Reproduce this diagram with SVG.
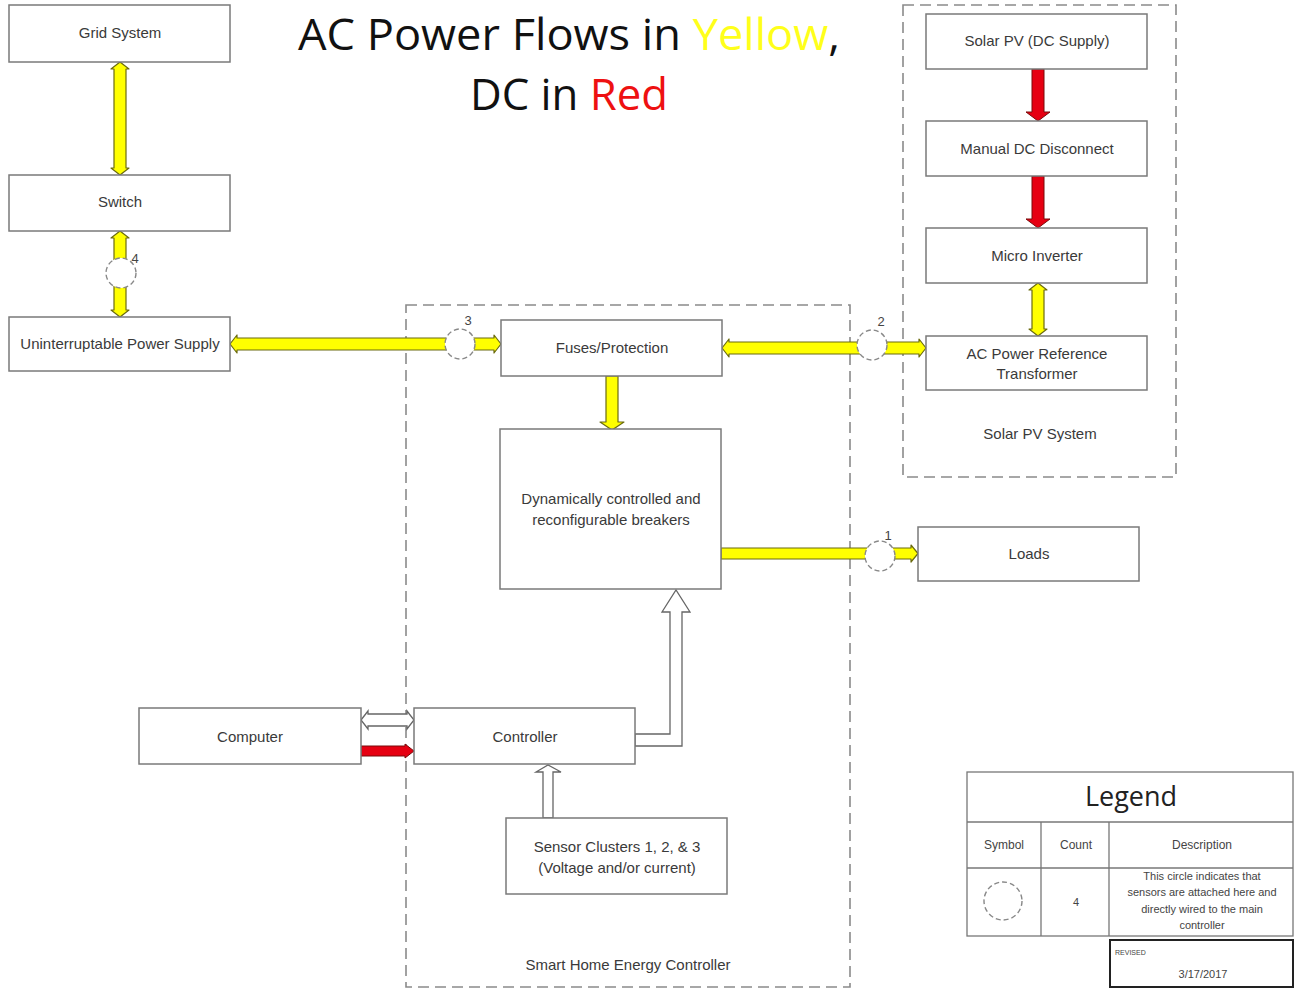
<svg xmlns="http://www.w3.org/2000/svg" width="1296" height="989" viewBox="0 0 1296 989">
<style>
.box{fill:#fff;stroke:#7a7a7a;stroke-width:1.5}
.cont{fill:none;stroke:#8a8a8a;stroke-width:1.6;stroke-dasharray:11 6}
.lbl{font-family:"Liberation Sans",Arial,sans-serif;font-size:15px;fill:#3a3a3a;text-anchor:middle}
.num{font-family:"Liberation Sans",Arial,sans-serif;font-size:13px;fill:#444;text-anchor:middle}
.ac{fill:#ffff00;stroke:#6b6b10;stroke-width:1.2;stroke-linejoin:round}
.dc{fill:#e60012;stroke:#7a0a0a;stroke-width:1;stroke-linejoin:round}
.hol{fill:#fff;stroke:#666;stroke-width:1.3;stroke-linejoin:miter}
.sens{fill:#fff;stroke:#888;stroke-width:1.4;stroke-dasharray:5 3}
.tbl{fill:#fff;stroke:#777;stroke-width:1.3}
.sm{font-family:"Liberation Sans",Arial,sans-serif;font-size:12px;fill:#444;text-anchor:middle}
.xs{font-family:"Liberation Sans",Arial,sans-serif;font-size:11px;fill:#444;text-anchor:middle}
</style>
<rect width="1296" height="989" fill="#fff"/>

<g id="title" font-family="'Open Sans','Liberation Sans',sans-serif" font-size="43" text-anchor="middle">
<text x="569" y="50" textLength="542" lengthAdjust="spacingAndGlyphs" fill="#111">AC Power Flows in <tspan fill="#ffff1a">Yellow</tspan>,</text>
<text x="569" y="110" textLength="198" lengthAdjust="spacingAndGlyphs" fill="#111">DC in <tspan fill="#ee1111">Red</tspan></text>
</g>

<g id="solar-pv-system">
<rect class="cont" x="903" y="5" width="273" height="472"/>
<text class="lbl" x="1040" y="439">Solar PV System</text>
</g>
<g id="smart-home-energy-controller">
<rect class="cont" x="406" y="305" width="444" height="682"/>
<text class="lbl" x="628" y="970">Smart Home Energy Controller</text>
</g>

<g id="connectors">
<!-- Grid <-> Switch -->
<path class="ac" d="M120,62 L129,69 L126,69 L126,168 L129,168 L120,175 L111,168 L114,168 L114,69 L111,69 Z"/>
<!-- Switch <-> UPS -->
<path class="ac" d="M120,231 L129,238 L126,238 L126,310 L129,310 L120,317 L111,310 L114,310 L114,238 L111,238 Z"/>
<!-- UPS <-> Fuses -->
<path class="ac" d="M230,344 L237,335 L237,338 L494,338 L494,335 L501,344 L494,353 L494,350 L237,350 L237,353 Z"/>
<!-- Fuses <-> AC transformer -->
<path class="ac" d="M722,348 L729,339 L729,342 L919,342 L919,339 L926,348 L919,357 L919,354 L729,354 L729,357 Z"/>
<!-- Fuses -> Breakers -->
<path class="ac" d="M606,376 L618,376 L618,422 L624,422 L612,430 L600,422 L606,422 Z"/>
<!-- Breakers -> Loads -->
<path class="ac" d="M721,548 L911,548 L911,545 L918,553.5 L911,562 L911,559 L721,559 Z"/>
<!-- Micro inverter <-> AC transformer -->
<path class="ac" d="M1038,283 L1047,290 L1044,290 L1044,329 L1047,329 L1038,336 L1029,329 L1032,329 L1032,290 L1029,290 Z"/>
<!-- Solar PV -> Manual DC -->
<path class="dc" d="M1032,69 L1044,69 L1044,112 L1050,112 L1038,121 L1026,112 L1032,112 Z"/>
<!-- Manual DC -> Micro -->
<path class="dc" d="M1032,176 L1044,176 L1044,219 L1050,219 L1038,228 L1026,219 L1032,219 Z"/>
<!-- Computer <-> Controller (data) -->
<path class="hol" d="M361,720 L368,711 L368,714 L407,714 L407,711 L414,720 L407,729 L407,726 L368,726 L368,729 Z"/>
<!-- Computer -> Controller (DC) -->
<path class="dc" d="M361,746 L405,746 L405,744 L414,751 L405,758 L405,756 L361,756 Z"/>
<!-- Controller -> Breakers -->
<path class="hol" d="M635,734 L670,734 L670,612 L662,612 L676,590 L690,612 L682,612 L682,746 L635,746 Z"/>
<!-- Sensors -> Controller -->
<path class="hol" d="M543,818 L543,772 L536,772 L548,765 L561,772 L553,772 L553,818 Z"/>
<!-- sensor circles -->
<circle class="sens" cx="121" cy="273" r="15"/>
<text class="num" x="135" y="263">4</text>
<circle class="sens" cx="460" cy="344" r="15"/>
<text class="num" x="468" y="325">3</text>
<circle class="sens" cx="872" cy="345" r="15"/>
<text class="num" x="881" y="326">2</text>
<circle class="sens" cx="880" cy="556" r="15"/>
<text class="num" x="888" y="540">1</text>
</g>

<g id="grid-system"><rect class="box" x="9" y="5" width="221" height="57"/><text class="lbl" x="120" y="38">Grid System</text></g>
<g id="switch"><rect class="box" x="9" y="175" width="221" height="56"/><text class="lbl" x="120" y="207">Switch</text></g>
<g id="ups"><rect class="box" x="9" y="317" width="221" height="54"/><text class="lbl" x="120" y="349">Uninterruptable Power Supply</text></g>
<g id="fuses"><rect class="box" x="501" y="320" width="221" height="56"/><text class="lbl" x="612" y="353">Fuses/Protection</text></g>
<g id="breakers"><rect class="box" x="500" y="429" width="221" height="160"/><text class="lbl" x="611" y="504">Dynamically controlled and</text><text class="lbl" x="611" y="525">reconfigurable breakers</text></g>
<g id="loads"><rect class="box" x="918" y="527" width="221" height="54"/><text class="lbl" x="1029" y="559">Loads</text></g>
<g id="computer"><rect class="box" x="139" y="708" width="222" height="56"/><text class="lbl" x="250" y="742">Computer</text></g>
<g id="controller"><rect class="box" x="414" y="708" width="221" height="56"/><text class="lbl" x="525" y="742">Controller</text></g>
<g id="sensor-clusters"><rect class="box" x="506" y="818" width="221" height="76"/><text class="lbl" x="617" y="852">Sensor Clusters 1, 2, &amp; 3</text><text class="lbl" x="617" y="873">(Voltage and/or current)</text></g>
<g id="solar-pv"><rect class="box" x="926" y="14" width="221" height="55"/><text class="lbl" x="1037" y="46">Solar PV (DC Supply)</text></g>
<g id="manual-dc"><rect class="box" x="926" y="121" width="221" height="55"/><text class="lbl" x="1037" y="154">Manual DC Disconnect</text></g>
<g id="micro-inverter"><rect class="box" x="926" y="228" width="221" height="55"/><text class="lbl" x="1037" y="261">Micro Inverter</text></g>
<g id="ac-transformer"><rect class="box" x="926" y="336" width="221" height="54"/><text class="lbl" x="1037" y="359">AC Power Reference</text><text class="lbl" x="1037" y="379">Transformer</text></g>

<g id="legend">
<rect class="tbl" x="967" y="772" width="326" height="164"/>
<line class="tbl" x1="967" y1="822" x2="1293" y2="822"/>
<line class="tbl" x1="967" y1="868" x2="1293" y2="868"/>
<line class="tbl" x1="1041" y1="822" x2="1041" y2="936"/>
<line class="tbl" x1="1109" y1="822" x2="1109" y2="936"/>
<text x="1131" y="806" font-family="'Open Sans','Liberation Sans',sans-serif" font-size="27" fill="#222" text-anchor="middle">Legend</text>
<text class="sm" x="1004" y="849">Symbol</text>
<text class="sm" x="1076" y="849">Count</text>
<text class="sm" x="1202" y="849">Description</text>
<circle class="sens" cx="1003" cy="901" r="19"/>
<text class="xs" x="1076" y="906">4</text>
<text class="xs" x="1202" y="880">This circle indicates that</text>
<text class="xs" x="1202" y="896">sensors are attached here and</text>
<text class="xs" x="1202" y="913">directly wired to the main</text>
<text class="xs" x="1202" y="929">controller</text>
</g>
<g id="revised">
<rect x="1110" y="940" width="183" height="47" fill="#fff" stroke="#222" stroke-width="2"/>
<text x="1115" y="955" font-family="'Liberation Sans',Arial,sans-serif" font-size="7" fill="#444">REVISED</text>
<text class="xs" x="1203" y="978">3/17/2017</text>
</g>
</svg>
